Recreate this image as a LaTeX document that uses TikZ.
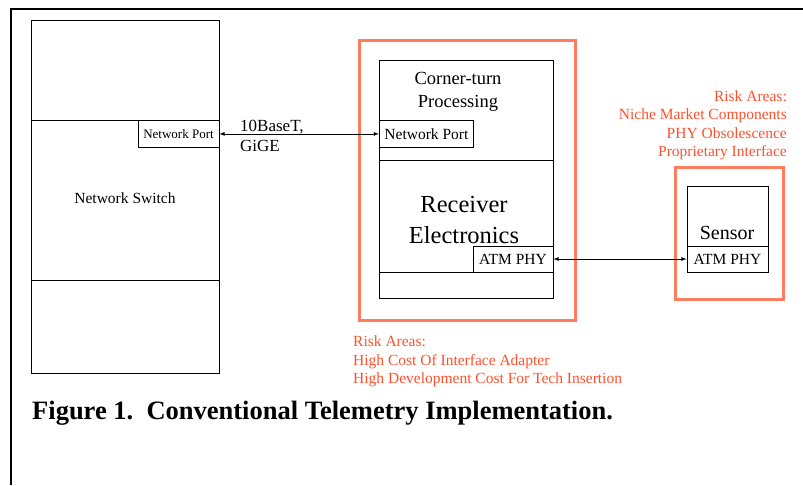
\documentclass[tikz,border=0pt]{standalone}
\usepackage{fontspec}
\setmainfont{Liberation Serif}
\usepackage{tikz}
\usetikzlibrary{arrows,calc,positioning}
\definecolor{riskline}{RGB}{255,125,95}
\definecolor{risktext}{RGB}{255,80,45}
\tikzset{%
	unit/.style    = {draw, rectangle, inner sep=0pt, line width=0.8pt},
	port/.style    = {draw, rectangle, inner sep=0pt, line width=0.8pt, font=\fontsize{15.5}{18}\selectfont},
	riskbox/.style = {draw=riskline, rectangle, line width=3pt},
	risk/.style    = {text=risktext, font=\fontsize{15.5}{18.4}\selectfont, inner sep=0pt},
	link/.style    = {line width=0.8pt,<->,>=latex},
}
\begin{document}
\begin{tikzpicture}[x=1pt,y=-1pt]
	\useasboundingbox (0,0) rectangle (803,485);
	\draw[line width=2pt] (11,485) -- (11,9) -- (803,9);
	% network switch
	\node[unit, minimum width=188pt, minimum height=353pt] (switch) at (125,196.5) {};
	\node[font=\fontsize{15.5}{18}\selectfont] (swtext) at (125,198.5) {Network Switch};
	\draw[line width=0.8pt] (switch.west |- 0,120) -- (switch.east |- 0,120);
	\draw[line width=0.8pt] (switch.west |- 0,280) -- (switch.east |- 0,280);
	\node[port, minimum width=81pt, minimum height=27pt, font=\fontsize{13}{15}\selectfont, anchor=north east] (swport) at (switch.east |- 0,120) {Network Port};
	% receiver side
	\node[riskbox, minimum width=216pt, minimum height=280pt] (riskA) at (467,180) {};
	\node[unit, minimum width=174pt, minimum height=238pt] (proc) at (466,179) {};
	\node[font=\fontsize{18.5}{23}\selectfont, align=center] (cttext) at (458,92) {Corner-turn\\Processing};
	\node[port, minimum width=94pt, minimum height=27pt, anchor=north west] (ctport) at (379,120) {Network Port};
	\node[unit, minimum width=174pt, minimum height=112pt] (rx) at (466,216) {};
	\node[font=\fontsize{24.5}{31}\selectfont, align=center] (rxtext) at (464,220) {Receiver\\Electronics};
	\node[port, minimum width=80pt, minimum height=26pt, anchor=south east] (rxphy) at (rx.south east) {ATM PHY};
	% sensor
	\node[riskbox, minimum width=108pt, minimum height=132pt] (riskB) at (729,233) {};
	\node[unit, minimum width=81pt, minimum height=86pt] (sensor) at (727.5,229) {};
	\node[font=\fontsize{20}{24}\selectfont] (sntext) at (727,233) {Sensor};
	\node[port, minimum width=81pt, minimum height=26pt, anchor=south] (snphy) at (sensor.south) {ATM PHY};
	% links
	\draw[link] (swport.east) -- (ctport.west);
	\node[align=left, anchor=west, font=\fontsize{17}{20}\selectfont, inner sep=0pt] (speed) at (240,136) {10BaseT,\\GiGE};
	\draw[link] (rxphy.east) -- (snphy.west);
	% risk notes
	\node[risk, align=right, anchor=north east] (riskBtext) at (787,90.5) {Risk Areas:\\Niche Market Components\\PHY Obsolescence\\Proprietary Interface};
	\node[risk, align=left, anchor=north west] (riskAtext) at (353,336) {Risk Areas:\\High Cost Of Interface Adapter\\High Development Cost For Tech Insertion};
	\node[anchor=west, font=\bfseries\fontsize{26.5}{30}\selectfont, inner sep=0pt] (caption) at (32,413) {Figure 1.\ \ Conventional Telemetry Implementation.};
\end{tikzpicture}
\end{document}
